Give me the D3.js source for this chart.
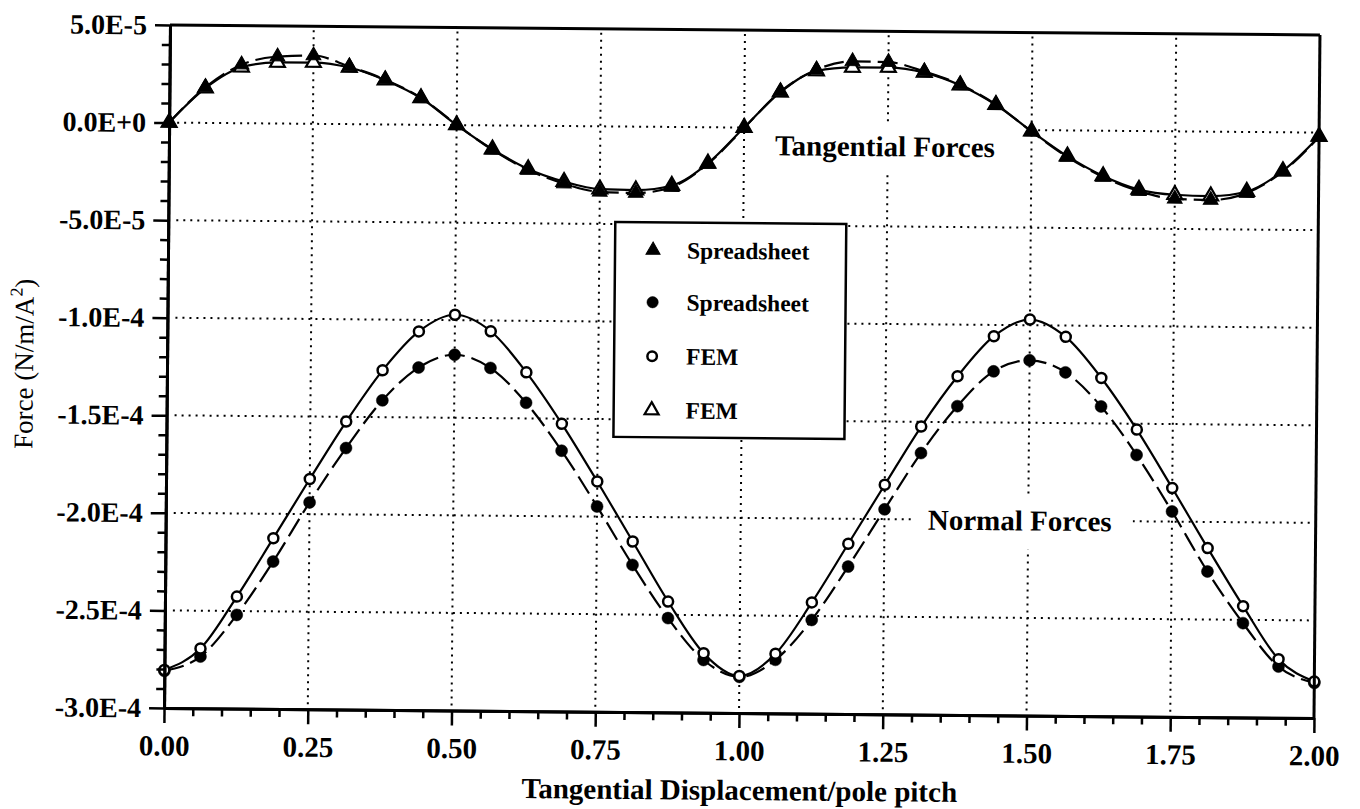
<!DOCTYPE html>
<html><head><meta charset="utf-8">
<script src="https://cdn.jsdelivr.net/npm/d3@7"></script>
<style>
body{margin:0;background:#fff;}
svg text{font-family:"Liberation Serif","Times New Roman",Times,serif;fill:#000;}
</style>
</head><body>
<svg id="chart" width="1360" height="809"></svg>
<script>
// ---- data (forces in units of 1E-5 N/m/A^2) ----
const xValues = [0,0.0625,0.125,0.1875,0.25,0.3125,0.375,0.4375,0.5,0.5625,0.625,0.6875,0.75,0.8125,0.875,0.9375,
  1.0,1.0625,1.125,1.1875,1.25,1.3125,1.375,1.4375,1.5,1.5625,1.625,1.6875,1.75,1.8125,1.875,1.9375,2.0];
const tanSpreadsheet = [0,1.82,3.0,3.43,3.5,2.95,2.3,1.38,0.02,-1.25,-2.27,-2.95,-3.36,-3.4,-3.08,-1.88,
  -0.02,1.86,3.0,3.44,3.42,2.95,2.3,1.3,-0.08,-1.36,-2.37,-3.08,-3.46,-3.5,-3.13,-2.02,-0.22];
const tanFEM = [0,1.78,2.87,3.13,3.14,2.9,2.27,1.37,0.0,-1.22,-2.22,-2.85,-3.22,-3.25,-3.0,-1.85,
  0.0,1.83,2.93,3.13,3.14,2.9,2.27,1.28,-0.06,-1.32,-2.32,-3.0,-3.25,-3.3,-3.05,-1.98,-0.2];
const normSpreadsheet = [-28.1,-27.35,-25.2,-22.45,-19.4,-16.6,-14.14,-12.44,-11.77,-12.43,-14.2,-16.64,-19.48,-22.46,-25.17,-27.3,
  -28.15,-27.26,-25.2,-22.45,-19.5,-16.6,-14.18,-12.38,-11.8,-12.4,-14.13,-16.6,-19.48,-22.54,-25.17,-27.38,-28.2];
const normFEM = [-28.05,-26.94,-24.26,-21.25,-18.2,-15.24,-12.6,-10.59,-9.72,-10.55,-12.64,-15.26,-18.2,-21.26,-24.32,-26.95,
  -28.1,-26.95,-24.3,-21.28,-18.24,-15.24,-12.65,-10.58,-9.71,-10.58,-12.67,-15.3,-18.28,-21.34,-24.3,-27.0,-28.13];

const yTickValues = [5,0,-5,-10,-15,-20,-25,-30];
const yTickLabels = ["5.0E-5","0.0E+0","-5.0E-5","-1.0E-4","-1.5E-4","-2.0E-4","-2.5E-4","-3.0E-4"];
const xTickValues = [0,0.25,0.5,0.75,1.0,1.25,1.5,1.75,2.0];
const xTickLabels = ["0.00","0.25","0.50","0.75","1.00","1.25","1.50","1.75","2.00"];
const legendLabels = ["Spreadsheet","Spreadsheet","FEM","FEM"];
const legendSymbols = ["triFilled","circFilled","circOpen","triOpen"];

// ---- layout ----
const L = 170, T = 25, W = 1150, H = 683;
const x = d3.scaleLinear().domain([0,2]).range([L, L+W]);
const y = d3.scaleLinear().domain([-30,5]).range([T+H, T]);

const svg = d3.select("#chart");
const g = svg.append("g").attr("transform", `rotate(0.5,${L},${T})`);

// gridlines
const grid = g.append("g").attr("stroke","#000").attr("stroke-width",2).attr("stroke-dasharray","2 5");
grid.selectAll(".vg").data(xTickValues.slice(1,-1)).join("line")
  .attr("x1",d=>x(d)).attr("x2",d=>x(d)).attr("y1",T+4).attr("y2",T+H-2);
grid.selectAll(".hg").data(yTickValues.slice(1,-1)).join("line")
  .attr("y1",d=>y(d)).attr("y2",d=>y(d)).attr("x1",L+8).attr("x2",L+W-4);

// label boxes (white background hiding gridlines)
g.append("rect").attr("x",749).attr("y",117).attr("width",279).attr("height",50).attr("fill","#fff");
g.append("text").attr("x",886).attr("y",150).attr("text-anchor","middle").attr("fill","#000")
  .attr("font-size",29).attr("font-weight","bold").text("Tangential Forces");
g.append("rect").attr("x",917).attr("y",487).attr("width",220).attr("height",55).attr("fill","#fff");
g.append("text").attr("x",1024).attr("y",523).attr("text-anchor","middle").attr("fill","#000")
  .attr("font-size",29).attr("font-weight","bold").text("Normal Forces");

// legend
const lg = g.append("g");
lg.append("rect").attr("x",617).attr("y",218).attr("width",231).attr("height",215)
  .attr("fill","#fff").attr("stroke","#000").attr("stroke-width",2.5);
const legendRowY = [246, 298, 352, 406];
function drawSymbol(sel, type, cx, cy, scale){
  if(type==="triFilled" || type==="triOpen"){
    sel.append("path").attr("d", d3.symbol(d3.symbolTriangle, 95*scale)())
      .attr("transform",`translate(${cx},${cy})`)
      .attr("fill", type==="triFilled" ? "#000" : "#fff")
      .attr("stroke","#000").attr("stroke-width", type==="triFilled"?1:2.2);
  } else {
    sel.append("circle").attr("cx",cx).attr("cy",cy)
      .attr("r", type==="circFilled" ? 6*Math.sqrt(scale) : 5*Math.sqrt(scale))
      .attr("fill", type==="circFilled" ? "#000" : "#fff")
      .attr("stroke","#000").attr("stroke-width", type==="circFilled"?0.5:2.5);
  }
}
legendLabels.forEach((lab,i)=>{
  drawSymbol(lg, legendSymbols[i], 655, legendRowY[i], 0.9);
  lg.append("text").attr("x",689).attr("y",legendRowY[i]+8).attr("fill","#000")
    .attr("font-size",23.5).attr("font-weight","bold").text(lab);
});

// curves
const line = d3.line().x((d,i)=>x(xValues[i])).y(d=>y(d)).curve(d3.curveMonotoneX);
const curves = g.append("g").attr("fill","none").attr("stroke","#000").attr("stroke-width",2.2);
curves.append("path").attr("d", line(normFEM));
curves.append("path").attr("d", line(normSpreadsheet)).attr("stroke-dasharray","20 7");
curves.append("path").attr("d", line(tanFEM));
curves.append("path").attr("d", line(tanSpreadsheet)).attr("stroke-dasharray","20 7");

// markers
const mk = g.append("g");
normSpreadsheet.forEach((v,i)=>drawSymbol(mk,"circFilled",x(xValues[i]),y(v),1));
normFEM.forEach((v,i)=>drawSymbol(mk,"circOpen",x(xValues[i]),y(v),1));
tanFEM.forEach((v,i)=>drawSymbol(mk,"triOpen",x(xValues[i]),y(v),1));
tanSpreadsheet.forEach((v,i)=>drawSymbol(mk,"triFilled",x(xValues[i]),y(v),1));

// axes
const yMinor = d3.range(-30,5.01,1).filter(v=>!yTickValues.includes(v));
const xMinor = d3.range(0,2.001,0.05).map(v=>+v.toFixed(2)).filter(v=>!xTickValues.includes(v));

const yAxisG = g.append("g").attr("transform",`translate(${L},0)`)
  .call(d3.axisLeft(y).tickValues(yTickValues).tickSize(15).tickSizeOuter(0)
    .tickFormat((d,i)=>yTickLabels[i]).tickPadding(8));
const yMinorG = g.append("g").attr("transform",`translate(${L},0)`)
  .call(d3.axisLeft(y).tickValues(yMinor).tickSize(8).tickSizeOuter(0).tickFormat(""));
const xAxisG = g.append("g").attr("transform",`translate(0,${T+H})`)
  .call(d3.axisBottom(x).tickValues(xTickValues).tickSize(15).tickSizeOuter(0)
    .tickFormat((d,i)=>xTickLabels[i]).tickPadding(12));
const xMinorG = g.append("g").attr("transform",`translate(0,${T+H})`)
  .call(d3.axisBottom(x).tickValues(xMinor).tickSize(8).tickSizeOuter(0).tickFormat(""));

[yAxisG,yMinorG,xAxisG,xMinorG].forEach(a=>{
  a.select(".domain").attr("stroke","#000").attr("stroke-width",3);
  a.selectAll(".tick line").attr("stroke","#000").attr("stroke-width",2.5);
});
yAxisG.selectAll("text").attr("font-size",28).attr("font-weight","bold")
  .style("font-family","'Liberation Serif','Times New Roman',serif").attr("fill","#000");
xAxisG.selectAll("text").attr("font-size",29).attr("font-weight","bold")
  .style("font-family","'Liberation Serif','Times New Roman',serif").attr("fill","#000");

// top and right frame
g.append("line").attr("x1",L).attr("x2",L+W).attr("y1",T).attr("y2",T).attr("stroke","#000").attr("stroke-width",3);
g.append("line").attr("x1",L+W).attr("x2",L+W).attr("y1",T).attr("y2",T+H).attr("stroke","#000").attr("stroke-width",3);

// axis titles
g.append("text").attr("x",746).attr("y",795).attr("text-anchor","middle").attr("fill","#000")
  .attr("font-size",29).attr("font-weight","bold").text("Tangential Displacement/pole pitch");
const yt = g.append("text").attr("transform","translate(36,365) rotate(-90)").attr("text-anchor","middle")
  .attr("font-size",27).attr("fill","#000").style("fill","#000");
yt.append("tspan").text("Force (N/m/A");
yt.append("tspan").attr("font-size",18).attr("dy",-11).text("2");
yt.append("tspan").attr("dy",11).text(")");
</script>
</body></html>
